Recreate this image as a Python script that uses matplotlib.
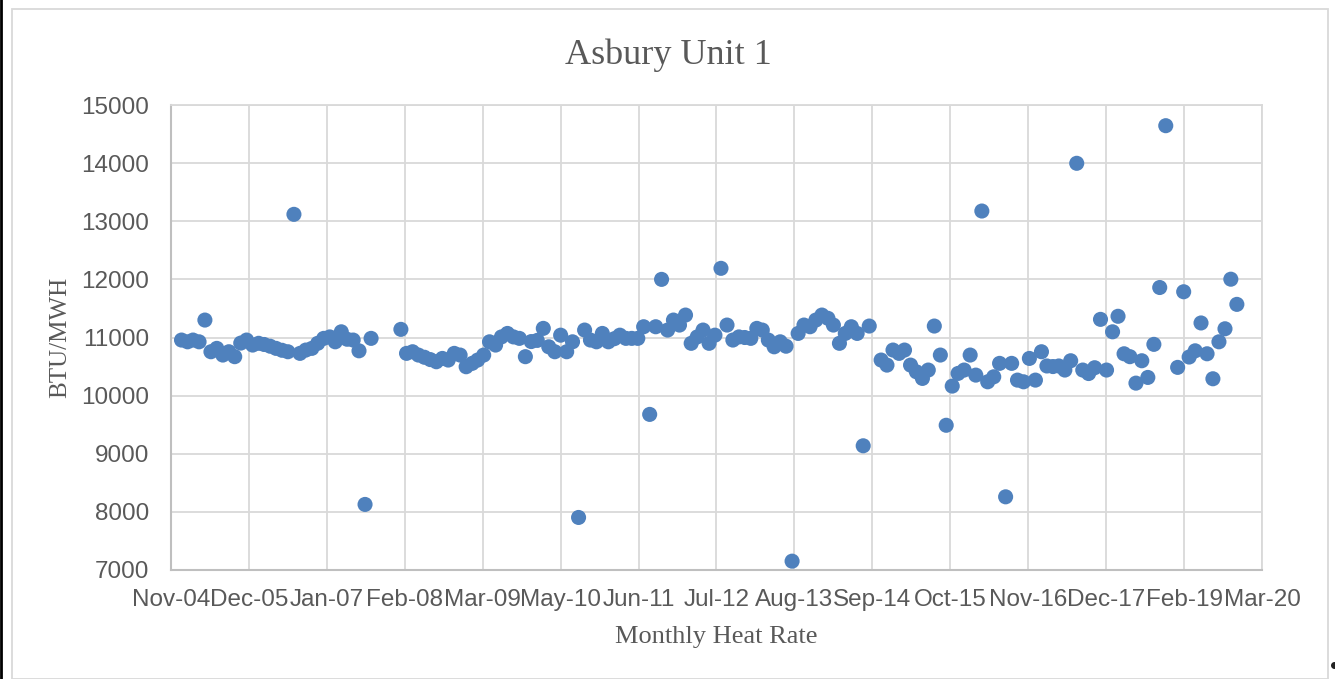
import numpy as np
import pandas as pd
import matplotlib
matplotlib.use("Agg")
import matplotlib.pyplot as plt
import matplotlib.dates as mdates
from matplotlib.patches import Rectangle
from matplotlib.lines import Line2D

# ---------------- data (monthly heat rate, BTU/MWH) ----------------
first_month = "2005-01-01"
last_month = "2019-11-01"
nan = np.nan
hr_2005 = [10956, 10926, 10956, 10926, 11300, 10755, 10813, 10698, 10755, 10670, 10904, 10956]
hr_2006 = [10870, 10900, 10880, 10850, 10813, 10780, 10755, 13119, 10727, 10784, 10813, 10900]
hr_2007 = [10985, 11010, 10926, 11098, 10970, 10956, 10771, 8128, 10985, nan, nan, nan]
hr_2008 = [nan, 11140, 10727, 10755, 10698, 10660, 10620, 10583, 10640, 10612, 10727, 10698]
hr_2009 = [10497, 10555, 10612, 10698, 10926, 10870, 11010, 11070, 11010, 10985, 10670, 10930]
hr_2010 = [10950, 11157, 10840, 10755, 11040, 10755, 10926, 7904, 11128, 10956, 10926, 11070]
hr_2011 = [10926, 10980, 11040, 10985, 10985, 10985, 11185, 9677, 11185, 12000, 11128, 11300]
hr_2012 = [11214, 11386, 10900, 11010, 11128, 10900, 11040, 12190, 11214, 10956, 11010, 11000]
hr_2013 = [10985, 11157, 11128, 10956, 10840, 10926, 10850, 7152, 11070, 11214, 11185, 11300]
hr_2014 = [11386, 11330, 11214, 10900, 11070, 11185, 11070, 9137, 11197, nan, 10612, 10525]
hr_2015 = [10784, 10727, 10784, 10525, 10410, 10296, 10440, 11197, 10698, 9490, 10164, 10382]
hr_2016 = [10440, 10698, 10353, 13176, 10238, 10324, 10555, 8259, 10555, 10267, 10238, 10640]
hr_2017 = [10267, 10755, 10510, 10500, 10510, 10440, 10600, 13997, 10440, 10380, 10480, 11312]
hr_2018 = [10440, 11098, 11365, 10720, 10670, 10215, 10600, 10313, 10882, 11860, 14644, nan]
hr_2019 = [10486, 11787, 10664, 10771, 11250, 10720, 10290, 10926, 11150, 12003, 11570]

heat_rate = (hr_2005 + hr_2006 + hr_2007 + hr_2008 + hr_2009 + hr_2010 + hr_2011 + hr_2012
             + hr_2013 + hr_2014 + hr_2015 + hr_2016 + hr_2017 + hr_2018 + hr_2019)
dates = pd.date_range(first_month, last_month, freq="MS")

title = "Asbury Unit 1"
y_label = "BTU/MWH"
x_label = "Monthly Heat Rate"
y_ticks = [7000, 8000, 9000, 10000, 11000, 12000, 13000, 14000, 15000]
axis_start = "2004-11-08"
tick_step_days = 400
n_tick_steps = 14

# ---------------- figure ----------------
W, H = 1335, 679
fig = plt.figure(figsize=(W / 100, H / 100), dpi=100)
fig.patch.set_facecolor("white")

L, R, T, B = 171, 1262, 105, 570
ax = fig.add_axes([L / W, 1 - B / H, (R - L) / W, (B - T) / H])

ax.scatter(dates, heat_rate, s=118, color="#4F81BD", edgecolors="none", zorder=3)

x0 = pd.Timestamp(axis_start)
xticks = [x0 + pd.Timedelta(days=tick_step_days * i) for i in range(n_tick_steps + 1)]
ax.set_xlim(xticks[0], xticks[-1])
ax.set_xticks(xticks)
ax.xaxis.set_major_formatter(mdates.DateFormatter("%b-%y"))
ax.set_ylim(y_ticks[0], y_ticks[-1])
ax.set_yticks(y_ticks)

grid_c = "#D9D9D9"
ax.grid(True, color=grid_c, lw=1.3, zorder=0)
ax.set_axisbelow(True)
for side in ["top", "right"]:
    ax.spines[side].set_color(grid_c)
    ax.spines[side].set_linewidth(1.3)
for side in ["left", "bottom"]:
    ax.spines[side].set_color("#BFBFBF")
    ax.spines[side].set_linewidth(1.5)

ax.tick_params(axis="both", length=0, colors="#595959", labelsize=17.5)
ax.tick_params(axis="y", pad=16)
ax.tick_params(axis="x", pad=14)
for lab in ax.get_xticklabels() + ax.get_yticklabels():
    lab.set_fontfamily("Liberation Sans")

fig.text(668 / W, 1 - 64 / H, title, family="Liberation Serif", size=26,
         color="#595959", ha="center", va="baseline")
fig.text(716 / W, 1 - 643 / H, x_label, family="Liberation Serif", size=19,
         color="#595959", ha="center", va="baseline")
fig.text(60 / W, 1 - 337.5 / H, y_label, family="Liberation Serif", size=18,
         color="#595959", ha="center", va="center", rotation=90)

# chart-area border and screenshot edge
fig.add_artist(Rectangle((11.5 / W, 0), (1328 - 11.5) / W, 1 - 8.5 / H,
                         transform=fig.transFigure, fill=False,
                         edgecolor=grid_c, lw=1.3))
fig.add_artist(Line2D([1.3 / W, 1.3 / W], [0, 1], transform=fig.transFigure,
                      color="black", lw=2.0))
fig.add_artist(Line2D([1334 / W], [1 - 665 / H], transform=fig.transFigure,
                      marker="o", ms=4, color="#222222", lw=0))

fig.savefig("out.png", dpi=100, facecolor="white")
